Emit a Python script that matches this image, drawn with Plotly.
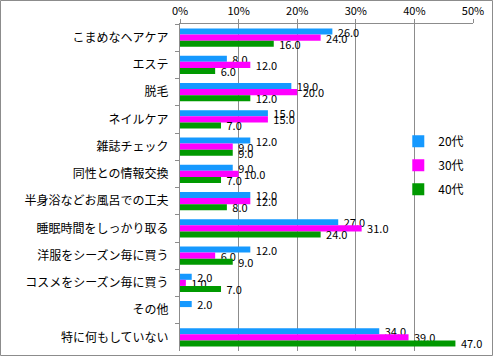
import plotly.graph_objects as go

categories = ["こまめなヘアケア", "エステ", "脱毛", "ネイルケア", "雑誌チェック", "同性との情報交換",
              "半身浴などお風呂での工夫", "睡眠時間をしっかり取る", "洋服をシーズン毎に買う",
              "コスメをシーズン毎に買う", "その他", "特に何もしていない"]
s20 = [26, 8, 19, 15, 12, 9, 12, 27, 12, 2, 2, 34]
s30 = [24, 12, 20, 15, 9, 10, 12, 31, 6, 1, 0, 39]
s40 = [16, 6, 12, 7, 9, 7, 8, 24, 9, 7, 0, 47]
series = [("20代", s20, "#1599FF"), ("30代", s30, "#FF00FF"), ("40代", s40, "#009900")]

W, H = 494, 357
L, R, T, B = 180, 21, 24, 6

fig = go.Figure()
for i, (name, vals, col) in enumerate(series):
    fig.add_trace(go.Bar(
        y=categories, x=vals, name=name, orientation="h",
        marker=dict(color=col, line=dict(width=0)),
        text=["\u00a0" + f"{v:.1f}" if v > 0 else "" for v in vals],
        textposition="outside", constraintext="none", cliponaxis=False,
        textfont=dict(size=11, color="black", family="Noto Sans CJK JP"),
        legendgroup=name,
    ))

fig.update_layout(
    width=W, height=H, barmode="group", bargap=0.33, bargroupgap=0,
    margin=dict(l=L, r=R, t=T, b=B, pad=0, autoexpand=False),
    paper_bgcolor="white", plot_bgcolor="white",
    font=dict(family="Noto Sans CJK JP", size=12, color="black"),
    showlegend=True,
    legend=dict(x=0.745, y=0.686, xanchor="left", yanchor="top",
                font=dict(size=12), tracegroupgap=5, bgcolor="rgba(0,0,0,0)"),
    xaxis=dict(side="top", range=[0, 50], dtick=10, ticksuffix="%",
               showgrid=True, gridcolor="#8C8C8C", gridwidth=1,
               showline=True, linecolor="#8C8C8C", zeroline=False,
               ticks="outside", ticklen=4, tickcolor="#8C8C8C",
               tickfont=dict(size=11), automargin=False),
    yaxis=dict(autorange="reversed", showline=True, linecolor="#8C8C8C",
               ticks="outside", ticklen=4, tickcolor="#8C8C8C", tickson="boundaries",
               showgrid=False, tickfont=dict(size=12), ticklabelstandoff=8,
               automargin=False),
)

pw = W - L - R
ph = H - T - B
fig.add_shape(type="rect", xref="paper", yref="paper",
              x0=-(L - 0.5) / pw, x1=1 + (R - 1.5) / pw,
              y0=-(B - 1.5) / ph, y1=1 + (T - 0.5) / ph,
              line=dict(color="#8C8C8C", width=1), layer="below")

fig.write_html("out.html", config={"displayModeBar": False},
               post_script="document.body.style.margin='0';document.body.style.overflow='hidden';")
